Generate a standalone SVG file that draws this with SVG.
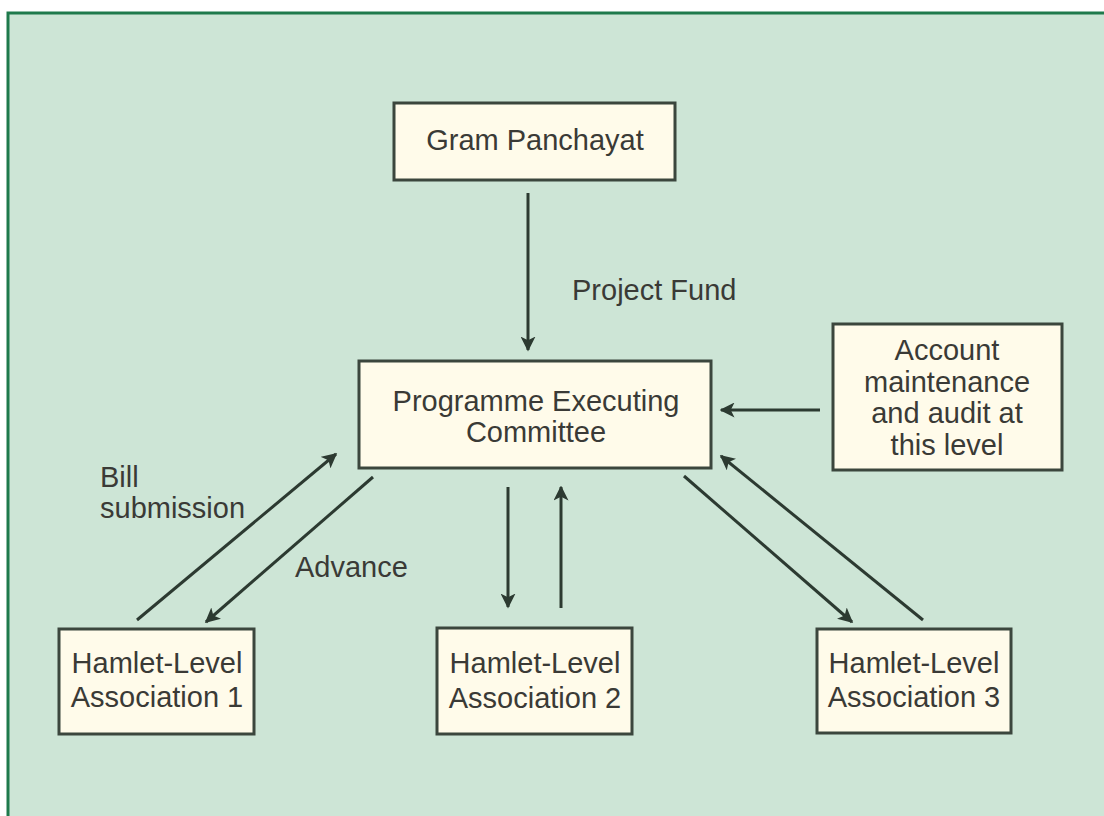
<svg xmlns="http://www.w3.org/2000/svg" width="1104" height="816" viewBox="0 0 1104 816">
<style>
.box{fill:#fffbea;stroke:#3b463d;stroke-width:3}
.t{font-family:"Liberation Sans",Arial,sans-serif;font-size:29px;fill:#3a3a36}
.m{text-anchor:middle}
.c{stroke:#2c3a31;stroke-width:3;fill:none;marker-end:url(#ah)}
</style>
<defs>
<marker id="ah" viewBox="0 0 10 10" refX="9" refY="5" markerWidth="5" markerHeight="5" orient="auto" markerUnits="strokeWidth">
<path d="M0,0 L10,5 L0,10 L2.5,5 Z" fill="#2c3a31"/>
</marker>
</defs>
<rect x="0" y="0" width="1104" height="816" fill="#ffffff"/>
<rect x="8" y="13" width="1110" height="820" fill="#cde5d6" stroke="#1f7a4c" stroke-width="3"/>
<g id="connectors">
<line class="c" x1="528" y1="193" x2="528" y2="350"/>
<line class="c" x1="820" y1="410" x2="721" y2="410"/>
<line class="c" x1="137" y1="620" x2="336" y2="454"/>
<line class="c" x1="373" y1="477" x2="206" y2="622"/>
<line class="c" x1="508" y1="487" x2="508" y2="607"/>
<line class="c" x1="561" y1="608" x2="561" y2="487"/>
<line class="c" x1="684" y1="476" x2="852" y2="622"/>
<line class="c" x1="923" y1="620" x2="721" y2="456"/>
</g>
<g id="gram-panchayat">
<rect class="box" x="394" y="103" width="281" height="77"/>
<text class="t m" x="535" y="150">Gram Panchayat</text>
</g>
<g id="pec">
<rect class="box" x="359" y="361" width="352" height="107"/>
<text class="t m" x="536" y="411">Programme Executing</text>
<text class="t m" x="536" y="442">Committee</text>
</g>
<g id="account">
<rect class="box" x="833" y="324" width="229" height="146"/>
<text class="t m" x="947" y="360">Account</text>
<text class="t m" x="947" y="392">maintenance</text>
<text class="t m" x="947" y="423">and audit at</text>
<text class="t m" x="947" y="455">this level</text>
</g>
<g id="hamlet1">
<rect class="box" x="59" y="629" width="195" height="105"/>
<text class="t m" x="157" y="673">Hamlet-Level</text>
<text class="t m" x="157" y="707">Association 1</text>
</g>
<g id="hamlet2">
<rect class="box" x="437" y="628" width="195" height="106"/>
<text class="t m" x="535" y="673">Hamlet-Level</text>
<text class="t m" x="535" y="708">Association 2</text>
</g>
<g id="hamlet3">
<rect class="box" x="817" y="629" width="194" height="104"/>
<text class="t m" x="914" y="673">Hamlet-Level</text>
<text class="t m" x="914" y="707">Association 3</text>
</g>
<g id="labels">
<text class="t" x="572" y="300">Project Fund</text>
<text class="t" x="100" y="487">Bill</text>
<text class="t" x="100" y="518">submission</text>
<text class="t" x="295" y="577">Advance</text>
</g>
</svg>
